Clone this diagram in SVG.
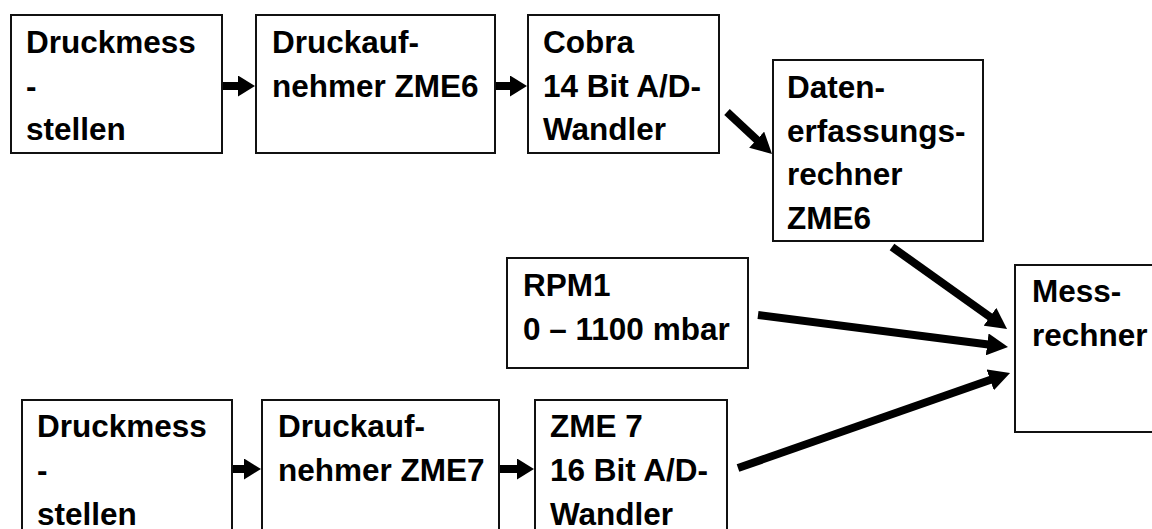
<svg xmlns="http://www.w3.org/2000/svg" width="1152" height="529" viewBox="0 0 1152 529">
  <style>
    .box { fill: #ffffff; stroke: #111111; stroke-width: 2; }
    .lbl { font-family: "Liberation Sans", Arial, sans-serif; font-weight: bold; font-size: 31.5px; fill: #000000; }
    .wire { stroke: #000000; stroke-width: 8; fill: none; }
  </style>
  <defs>
    <marker id="head-h" markerUnits="userSpaceOnUse" markerWidth="17" markerHeight="21" refX="7" refY="10.5" orient="auto">
      <path d="M0,0 L17,10.5 L0,21 Z" fill="#000000"/>
    </marker>
    <marker id="head-d" markerUnits="userSpaceOnUse" markerWidth="21" markerHeight="22" refX="11" refY="11" orient="auto">
      <path d="M0,0 L21,11 L0,22 Z" fill="#000000"/>
    </marker>
  </defs>

  <rect width="1152" height="529" fill="#ffffff"/>

  <!-- upper chain: ZME6 -->
  <g id="messstellen-zme6">
    <rect class="box" x="11" y="15" width="211" height="138"/>
    <text class="lbl" x="26" y="53">Druckmess</text>
    <text class="lbl" x="26" y="96.5">-</text>
    <text class="lbl" x="26" y="140">stellen</text>
  </g>
  <g id="aufnehmer-zme6">
    <rect class="box" x="256" y="15" width="239" height="138"/>
    <text class="lbl" x="272" y="53">Druckauf-</text>
    <text class="lbl" x="272" y="96.5">nehmer ZME6</text>
  </g>
  <g id="cobra-ad">
    <rect class="box" x="528" y="15" width="191" height="138"/>
    <text class="lbl" x="543" y="53">Cobra</text>
    <text class="lbl" x="543" y="96.5">14 Bit A/D-</text>
    <text class="lbl" x="543" y="140">Wandler</text>
  </g>
  <g id="datenerfassung-zme6">
    <rect class="box" x="773" y="60" width="210" height="181"/>
    <text class="lbl" x="787" y="98">Daten-</text>
    <text class="lbl" x="787" y="141.5">erfassungs-</text>
    <text class="lbl" x="787" y="185">rechner</text>
    <text class="lbl" x="787" y="228.5">ZME6</text>
  </g>

  <!-- reference pressure gauge -->
  <g id="rpm1">
    <rect class="box" x="507" y="258" width="241" height="110"/>
    <text class="lbl" x="523" y="296">RPM1</text>
    <text class="lbl" x="523" y="340">0 – 1100 mbar</text>
  </g>

  <!-- central measurement computer -->
  <g id="messrechner">
    <rect class="box" x="1015" y="265" width="142" height="167"/>
    <text class="lbl" x="1032" y="302">Mess-</text>
    <text class="lbl" x="1032" y="345.5">rechner</text>
  </g>

  <!-- lower chain: ZME7 -->
  <g id="messstellen-zme7">
    <rect class="box" x="22" y="400" width="210" height="140"/>
    <text class="lbl" x="37" y="437">Druckmess</text>
    <text class="lbl" x="37" y="481">-</text>
    <text class="lbl" x="37" y="525">stellen</text>
  </g>
  <g id="aufnehmer-zme7">
    <rect class="box" x="262" y="400" width="237" height="140"/>
    <text class="lbl" x="278" y="437">Druckauf-</text>
    <text class="lbl" x="278" y="481">nehmer ZME7</text>
  </g>
  <g id="zme7-ad">
    <rect class="box" x="535" y="400" width="192" height="140"/>
    <text class="lbl" x="550" y="437">ZME 7</text>
    <text class="lbl" x="550" y="481">16 Bit A/D-</text>
    <text class="lbl" x="550" y="525">Wandler</text>
  </g>

  <!-- signal flow -->
  <g id="connectors">
    <line class="wire" x1="223" y1="86" x2="245" y2="86" marker-end="url(#head-h)"/>
    <line class="wire" x1="496" y1="86" x2="517" y2="86" marker-end="url(#head-h)"/>
    <line class="wire" x1="233" y1="469" x2="251" y2="469" marker-end="url(#head-h)"/>
    <line class="wire" x1="500" y1="469" x2="524" y2="469" marker-end="url(#head-h)"/>
    <line class="wire" x1="727" y1="112" x2="764.7" y2="147.2" marker-end="url(#head-d)"/>
    <line class="wire" x1="892" y1="247" x2="998.9" y2="323.2" marker-end="url(#head-d)"/>
    <line class="wire" x1="758" y1="315" x2="998.1" y2="345.7" marker-end="url(#head-d)"/>
    <line class="wire" x1="738" y1="468" x2="1000.6" y2="376.3" marker-end="url(#head-d)"/>
  </g>
</svg>
